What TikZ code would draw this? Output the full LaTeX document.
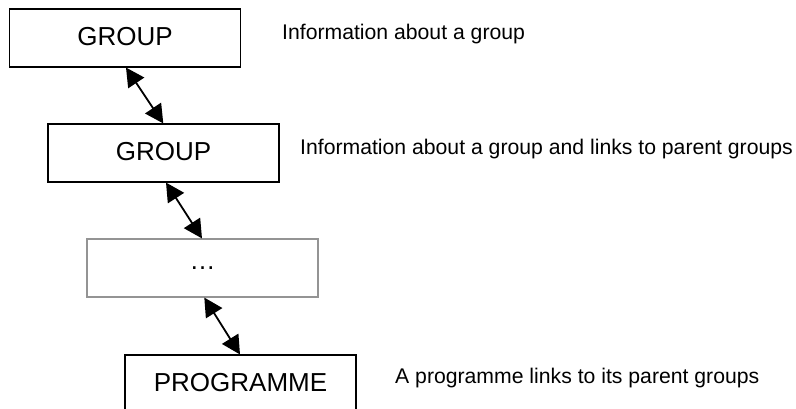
\documentclass[tikz,border=0pt]{standalone}
\usepackage{fontspec}
\setmainfont{Liberation Sans}
\usetikzlibrary{arrows.meta}
\begin{document}
\begin{tikzpicture}[x=1pt,y=-1pt,
  box/.style={draw=black, line width=1.1pt, minimum width=231pt, minimum height=58pt, inner sep=0pt, font=\fontsize{26}{30}\selectfont},
  graybox/.style={box, draw=black!42},
  info/.style={anchor=base west, inner sep=0pt, font=\fontsize{21.2}{25}\selectfont},
  link/.style={line width=1.8pt, arrows={Triangle[length=18.5pt,width=19pt]-Triangle[length=18.5pt,width=19pt]}}]
\useasboundingbox (0,0) rectangle (796,409);
\clip (0,0) rectangle (796,409);
\node[box] (g1) at (125,38) {\raisebox{4pt}{GROUP}};
\node[box] (g2) at (163.5,153) {\raisebox{3pt}{GROUP}};
\node[graybox] (dots) at (202.5,268) {\raisebox{-2pt}{\dots}};
\node[box] (prog) at (240.5,384) {\raisebox{4pt}{PROGRAMME}};
\node[info] (t1) at (282,40) {Information about a group};
\node[info] (t2) at (300,155) {Information about a group and links to parent groups};
\node[info] (t3) at (395,383) {A programme links to its parent groups};
\draw[link] ([xshift=1pt]g1.south) -- ([xshift=-0.2pt]g2.north);
\draw[link] ([xshift=2.5pt]g2.south) -- ([xshift=-0.5pt]dots.north);
\draw[link] ([xshift=1.8pt]dots.south) -- ([xshift=-0.5pt]prog.north);
\end{tikzpicture}
\end{document}
